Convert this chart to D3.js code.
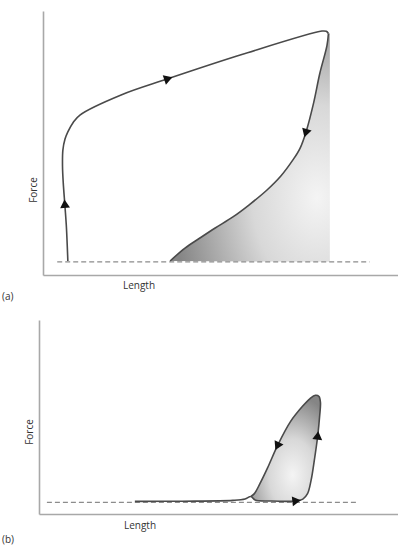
<!DOCTYPE html>
<html><head><meta charset="utf-8">
<script src="https://cdn.jsdelivr.net/npm/d3@7"></script>
<style>body{margin:0;background:#fff}svg{display:block}text{font-family:"Open Sans","Noto Sans",sans-serif;fill:#333}</style>
</head><body>
<script>
// ---- data (arbitrary units: length, force) ----
const baselineA = 5;
const dashRangeA = [4, 92];
const upCurveA = [[7.0,5.3],[6.6,18],[6.2,25.8],[5.7,35],[5.5,41],[5.6,47.3],[6.2,51.5],[7.0,54.2],[8.5,57.8],[10.4,60.6],[22,68.2],[34.9,74.2],[56,83.5],[78.6,92.4],[79.8,92.3],[80.4,91.5]];
const downCurveA = [[80.4,91.5],[80.0,87],[78.0,76.5],[76.2,65],[74.1,54.2],[72.4,48],[70.4,43.6],[67,37.5],[63.1,32.2],[58,26.5],[53.5,22.0],[48.5,17.8],[44.2,14.0],[40,10.2],[35.8,5.3]];
const fillEdgeA = 80.8;
const arrowsA = [[6.4,26.5],[34.9,74.2],[74.1,54.2]];

const baselineB = 6;
const dashRangeB = [2.2, 88.9];
const curveB = [[26.7,6.5],[40,6.6],[54.0,7.0],[57.4,7.7],[59.0,9.0],[60.2,7.2],[64.3,6.7],[71.3,6.7],[73.5,7.7],[74.8,10.5],[75.8,17.5],[76.7,27.8],[77.6,39.7],[78.2,51],[78.4,57.5],[78.0,60.6],[77.0,61.2],[75.5,59.5],[73.4,55.5],[70.0,47.5],[66.5,35.5],[63.6,23.5],[61.5,15.5],[60.0,10.5],[59.0,9.0]];
const loopB = curveB.slice(4);
const arrowsB = [[71.3,6.7],[77.6,39.7],[66.5,35.5]];

const W = 398, H = 546;
const svg = d3.select("body").append("svg").attr("width", W).attr("height", H);
const defs = svg.append("defs");

function grad(id, cx, cy, r) {
  const g = defs.append("radialGradient").attr("id", id)
    .attr("cx", cx).attr("cy", cy).attr("r", r);
  g.append("stop").attr("offset", "0%").attr("stop-color", "#f4f4f4");
  g.append("stop").attr("offset", "45%").attr("stop-color", "#d8d8d8");
  g.append("stop").attr("offset", "100%").attr("stop-color", "#858585");
}
grad("gA", 0.92, 0.72, 0.9);
grad("gB", 0.6, 0.75, 0.75);

function panel(cfg) {
  const x = d3.scaleLinear().domain([0, 100]).range(cfg.xr);
  const y = d3.scaleLinear().domain([0, 100]).range(cfg.yr);
  const g = svg.append("g");
  const line = d3.line().x(d => x(d[0])).y(d => y(d[1])).curve(d3.curveCatmullRom.alpha(0.5));

  // fill
  g.append("path").attr("d", cfg.fillPath(x, y, line)).attr("fill", `url(#${cfg.grad})`).attr("stroke", "none");

  // axes (domain lines only)
  g.append("g").attr("transform", `translate(0,${cfg.yr[0]})`)
    .call(d3.axisBottom(x).tickValues([]).tickSizeOuter(0));
  g.append("g").attr("transform", `translate(${cfg.xr[0]},0)`)
    .call(d3.axisLeft(y).tickValues([]).tickSizeOuter(0));
  g.selectAll(".domain").attr("stroke", "#a8a8a8").attr("stroke-width", 1.6);

  // dashed baseline
  g.append("line").attr("x1", x(cfg.dash[0])).attr("x2", x(cfg.dash[1]))
    .attr("y1", y(cfg.base)).attr("y2", y(cfg.base))
    .attr("stroke", "#8c8c8c").attr("stroke-width", 1.2).attr("stroke-dasharray", "5,3");

  // curves
  const paths = cfg.curves.map(c => g.append("path").attr("d", line(c))
    .attr("fill", "none").attr("stroke", "#4a4a4a").attr("stroke-width", 1.6).node());

  // arrows: locate nearest point on the curves, orient along tangent
  cfg.arrows.forEach(a => {
    const px = x(a[0]), py = y(a[1]);
    let best = null;
    paths.forEach(p => {
      const L = p.getTotalLength();
      for (let l = 0; l <= L; l += 0.5) {
        const q = p.getPointAtLength(l);
        const dd = (q.x - px) ** 2 + (q.y - py) ** 2;
        if (!best || dd < best.dd) best = {dd, p, l, L};
      }
    });
    const p0 = best.p.getPointAtLength(Math.max(0, best.l - 2));
    const p1 = best.p.getPointAtLength(Math.min(best.L, best.l + 2));
    const q = best.p.getPointAtLength(best.l);
    const ang = Math.atan2(p1.y - p0.y, p1.x - p0.x) * 180 / Math.PI + 90;
    g.append("path").attr("d", d3.symbol(d3.symbolTriangle, 42)())
      .attr("transform", `translate(${q.x},${q.y}) rotate(${ang})`)
      .attr("fill", "#111");
  });

  // labels
  g.append("text").attr("transform", `translate(${cfg.forcePos[0]},${cfg.forcePos[1]}) rotate(-90)`)
    .attr("text-anchor", "middle").attr("font-size", 10).text("Force");
  g.append("text").attr("x", cfg.lenPos[0]).attr("y", cfg.lenPos[1])
    .attr("text-anchor", "middle").attr("font-size", 10).text("Length");
  g.append("text").attr("x", cfg.tagPos[0]).attr("y", cfg.tagPos[1])
    .attr("font-size", 10).text(cfg.tag);
}

panel({
  xr: [43, 398], yr: [275, 11], base: baselineA, dash: dashRangeA,
  curves: [upCurveA, downCurveA], arrows: arrowsA, grad: "gA",
  fillPath: (x, y, line) => {
    const tmp = document.createElementNS("http://www.w3.org/2000/svg", "path");
    tmp.setAttribute("d", line(downCurveA));
    const L = tmp.getTotalLength(); const out = [];
    for (let l = 0; l <= L; l += 2) { const q = tmp.getPointAtLength(l); out.push([x.invert(q.x), y.invert(q.y)]); }
    out.push(downCurveA[downCurveA.length - 1]);
    const pts = out.concat([[fillEdgeA, baselineA], [fillEdgeA, 91.5]]);
    return d3.line().x(d => x(d[0])).y(d => y(d[1]))(pts) + "Z";
  },
  forcePos: [37, 190], lenPos: [139, 289], tagPos: [2, 300], tag: "(a)"
});

panel({
  xr: [39, 398], yr: [514, 320], base: baselineB, dash: dashRangeB,
  curves: [curveB], arrows: arrowsB, grad: "gB",
  fillPath: (x, y, line) => line(loopB) + "Z",
  forcePos: [33, 432], lenPos: [140, 529], tagPos: [2, 543], tag: "(b)"
});
</script>
</body></html>
